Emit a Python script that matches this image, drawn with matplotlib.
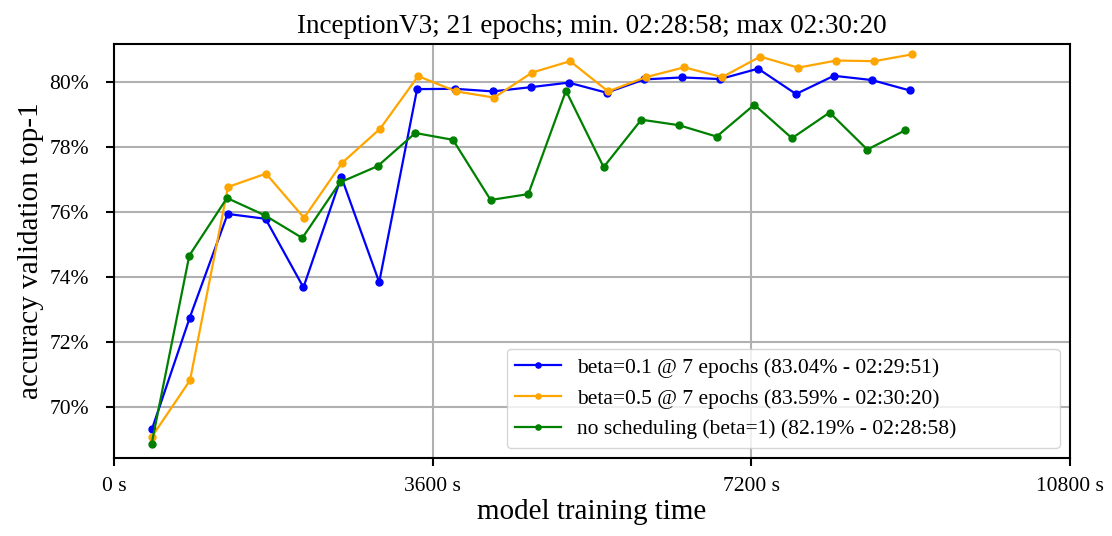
import numpy as np
import matplotlib
matplotlib.use("Agg")
import matplotlib.pyplot as plt
from matplotlib.ticker import FuncFormatter

plt.rcParams["font.family"] = ["Liberation Serif", "DejaVu Serif"]

# total training time (s) of each run, 21 epochs each
epochs = 21
total_time = {"blue": 8991, "orange": 9020, "green": 8938}

acc_beta01 = [69.31, 72.75, 75.94, 75.79, 73.68, 77.08, 73.84, 79.78, 79.79, 79.71,
              79.84, 79.98, 79.67, 80.08, 80.14, 80.09, 80.41, 79.63, 80.19, 80.06, 79.74]
acc_beta05 = [69.09, 70.82, 76.77, 77.18, 75.82, 77.51, 78.56, 80.18, 79.71, 79.52,
              80.29, 80.64, 79.71, 80.15, 80.45, 80.15, 80.78, 80.44, 80.66, 80.64, 80.85]
acc_nosched = [68.87, 74.66, 76.43, 75.90, 75.20, 76.91, 77.41, 78.43, 78.22, 76.37,
               76.55, 79.73, 77.38, 78.84, 78.67, 78.32, 79.30, 78.27, 79.06, 77.92, 78.51]

labels = [
    "beta=0.1 @ 7 epochs (83.04% - 02:29:51)",
    "beta=0.5 @ 7 epochs (83.59% - 02:30:20)",
    "no scheduling (beta=1) (82.19% - 02:28:58)",
]
xticks = [0, 3600, 7200, 10800]
yticks = [70, 72, 74, 76, 78, 80]

fig = plt.figure(figsize=(11.12, 5.36), dpi=100)
ax = fig.add_axes([0.1025, 0.1455, 0.8595, 0.7725])

series = [
    (acc_beta01, "blue", total_time["blue"]),
    (acc_beta05, "orange", total_time["orange"]),
    (acc_nosched, "green", total_time["green"]),
]
for (acc, color, t), lab in zip(series, labels):
    x = np.arange(1, epochs + 1) * t / epochs
    ax.plot(x, acc, "-o", color=color, linewidth=1.6, markersize=5, label=lab)

ax.set_xlim(0, 10800)
ax.set_ylim(68.43, 81.17)
ax.set_xticks(xticks)
ax.set_yticks(yticks)
ax.xaxis.set_major_formatter(FuncFormatter(lambda v, p: "%d s" % v))
ax.yaxis.set_major_formatter(FuncFormatter(lambda v, p: "%d%%" % v))
ax.tick_params(labelsize=15.5, width=1.5, length=6)
ax.tick_params(axis="x", pad=8)
ax.tick_params(axis="y", pad=12)
ax.grid(True, color="#b0b0b0", linewidth=1.5)
ax.set_axisbelow(True)
for s in ax.spines.values():
    s.set_linewidth(1.5)

ax.set_title("InceptionV3; 21 epochs; min. 02:28:58; max 02:30:20", fontsize=19.5, pad=8)
ax.set_xlabel("model training time", fontsize=21, labelpad=2)
ax.set_ylabel("accuracy validation top-1", fontsize=21, labelpad=4)

# legend is stretched like in the original (wide frame)
ax.legend(loc="lower left", bbox_to_anchor=(0.411, 0.024, 0.5785, 0.244),
          mode="expand", borderaxespad=0, fontsize=15.5, markerscale=0.75,
          handlelength=2.1, handletextpad=0.75, labelspacing=0.5)

fig.savefig("out.png", dpi=100)
